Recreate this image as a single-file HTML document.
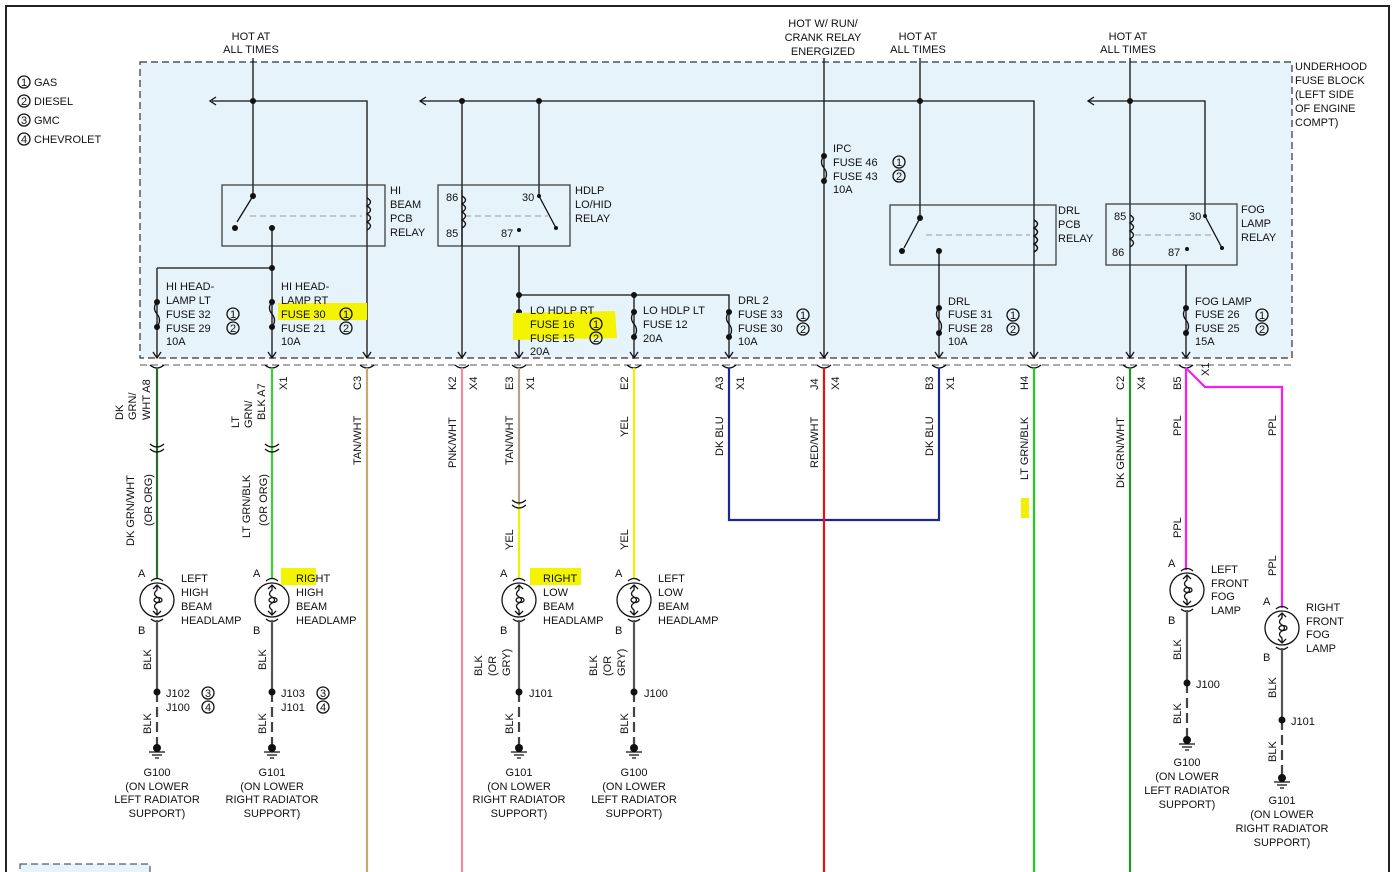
<!DOCTYPE html>
<html><head><meta charset="utf-8"><style>
html,body{margin:0;padding:0;background:#fff}
svg{display:block}
text{font-family:"Liberation Sans",sans-serif;font-size:11px;fill:#111}
.c{text-anchor:middle}
.w{fill:none;stroke-width:2.2}
.k{stroke:#111;fill:none;stroke-width:1.3}
</style></head><body>
<svg width="1398" height="872" viewBox="0 0 1398 872" xmlns="http://www.w3.org/2000/svg">
<defs>
<g id="lamp"><circle cx="0" cy="0" r="17" fill="#fff" stroke="#111" stroke-width="1.3"/>
<path d="M-6 -19 Q0 -24 6 -19 M-6 19 Q0 24 6 19" class="k"/>
<path d="M0 -15 L0 -10 Q-5 -6 0 -3 Q5 0 0 3 Q-5 6 0 10 L0 15 M-4 -11 L0 -15 L4 -11 M-4 11 L0 15 L4 11" class="k"/>
<ellipse cx="1" cy="0" rx="4" ry="2.5" class="k"/></g>
<g id="gnd"><circle cx="0" cy="0" r="4" fill="#111"/><path d="M-8 4 H8 M-5 7 H5 M-2 10 H2" class="k"/></g>
<g id="fuse"><circle cx="0" cy="0" r="3" fill="#111"/><circle cx="0" cy="25" r="3" fill="#111"/><path d="M0 0 Q-5 6 0 12 Q5 18 0 25" class="k"/></g>
<g id="conn"><path d="M-7 -3 Q0 3 7 -3" class="k"/></g>
<g id="arr"><path d="M-4 -6 L0 0 L4 -6" class="k"/></g>
</defs>
<!-- frame -->
<path d="M6 872 V6 H1389 V872" stroke="#222" stroke-width="2" fill="none"/>
<!-- fuse block -->
<rect x="140" y="62" width="1152" height="296" fill="#e6f3fb" stroke="#333" stroke-width="1.2" stroke-dasharray="7,4"/>
<line x1="140" y1="365" x2="1292" y2="365" stroke="#555" stroke-dasharray="7,4"/>
<!-- legend -->
<g><circle cx="24" cy="82" r="6" class="k"/><text x="21" y="86" font-size="9">1</text><text x="34" y="86">GAS</text>
<circle cx="24" cy="101" r="6" class="k"/><text x="21" y="105" font-size="9">2</text><text x="34" y="105">DIESEL</text>
<circle cx="24" cy="120" r="6" class="k"/><text x="21" y="124" font-size="9">3</text><text x="34" y="124">GMC</text>
<circle cx="24" cy="139" r="6" class="k"/><text x="21" y="143" font-size="9">4</text><text x="34" y="143">CHEVROLET</text></g>
<!-- top labels -->
<text class="c" x="251" y="40">HOT AT</text><text class="c" x="251" y="53">ALL TIMES</text>
<text class="c" x="823" y="27">HOT W/ RUN/</text><text class="c" x="823" y="41">CRANK RELAY</text><text class="c" x="823" y="55">ENERGIZED</text>
<text class="c" x="918" y="40">HOT AT</text><text class="c" x="918" y="53">ALL TIMES</text>
<text class="c" x="1128" y="40">HOT AT</text><text class="c" x="1128" y="53">ALL TIMES</text>
<text x="1295" y="70">UNDERHOOD</text><text x="1295" y="84">FUSE BLOCK</text><text x="1295" y="98">(LEFT SIDE</text><text x="1295" y="112">OF ENGINE</text><text x="1295" y="126">COMPT)</text>
<!-- buses -->
<path d="M253 58 V196 M212 101 H367 V358 M420 101 H1034 V358 M920 58 V101 M920 101 V218 M824 58 V358 M1130 58 V358 M1088 101 H1205 V208 M462 101 V358 M539 101 V190" class="k"/>
<path d="M216 97 L210 101 L216 105 M426 97 L420 101 L426 105 M1094 97 L1088 101 L1094 105" class="k"/>
<g fill="#111"><circle cx="253" cy="101" r="3"/><circle cx="462" cy="101" r="3"/><circle cx="539" cy="101" r="3"/><circle cx="920" cy="101" r="3"/><circle cx="1130" cy="101" r="3"/></g>
<!-- HI BEAM relay -->
<rect x="222" y="185" width="163" height="61" fill="none" stroke="#333" stroke-width="1.2"/>
<path d="M253 196 L237 222" class="k"/><circle cx="253" cy="196" r="3" fill="#111"/><circle cx="235" cy="228" r="3" fill="#111"/><circle cx="272" cy="228" r="3" fill="#111"/>
<line x1="250" y1="216" x2="362" y2="216" stroke="#999" stroke-dasharray="6,4"/>
<path d="M367 198 Q374 202 367 206 Q374 210 367 214 Q374 218 367 222 Q374 226 367 230" class="k"/>
<text x="390" y="194">HI</text><text x="390" y="208">BEAM</text><text x="390" y="222">PCB</text><text x="390" y="236">RELAY</text>
<path d="M272 228 V358 M157 268 H272 M157 268 V358" class="k"/><circle cx="272" cy="268" r="3" fill="#111"/>
<use href="#fuse" x="157" y="302"/><use href="#fuse" x="272" y="302"/>
<rect x="278" y="303" width="89" height="17" fill="#f4f400"/>
<text x="166" y="290">HI HEAD-</text><text x="166" y="304">LAMP LT</text><text x="166" y="318">FUSE 32</text><text x="166" y="332">FUSE 29</text><text x="166" y="345">10A</text>
<text x="281" y="290">HI HEAD-</text><text x="281" y="304">LAMP RT</text><text x="281" y="318">FUSE 30</text><text x="281" y="332">FUSE 21</text><text x="281" y="345">10A</text>
<g class="k"><circle cx="233" cy="314" r="6"/><circle cx="233" cy="328" r="6"/><circle cx="346" cy="314" r="6"/><circle cx="346" cy="328" r="6"/></g>
<text x="230" y="318" font-size="9">1</text><text x="230" y="332" font-size="9">2</text><text x="343" y="318" font-size="9">1</text><text x="343" y="332" font-size="9">2</text>
<!-- HDLP relay -->
<rect x="438" y="185" width="132" height="61" fill="none" stroke="#333" stroke-width="1.2"/>
<line x1="465" y1="216" x2="548" y2="216" stroke="#999" stroke-dasharray="6,4"/>
<path d="M462 190 V246 M462 196 Q469 200 462 204 Q469 208 462 212 Q469 216 462 220 Q469 224 462 228 M539 190 V196 L556 228 M519 246 V255 M519 358 V255" class="k"/>
<circle cx="539" cy="196" r="2" fill="#111"/><circle cx="556" cy="228" r="2" fill="#111"/><circle cx="519" cy="230" r="2" fill="#111"/>
<text x="446" y="201">86</text><text x="446" y="237">85</text><text x="522" y="201">30</text><text x="501" y="237">87</text>
<text x="575" y="194">HDLP</text><text x="575" y="208">LO/HID</text><text x="575" y="222">RELAY</text>
<path d="M519 295 H729 V358 M634 295 V358" class="k"/><circle cx="519" cy="295" r="3" fill="#111"/><circle cx="634" cy="295" r="3" fill="#111"/>
<use href="#fuse" x="519" y="312"/><use href="#fuse" x="634" y="312"/><use href="#fuse" x="729" y="312"/>
<path d="M513 313 L615 311 L617 338 L513 340 Z" fill="#f4f400"/>
<text x="530" y="314">LO HDLP RT</text><text x="530" y="328">FUSE 16</text><text x="530" y="342">FUSE 15</text><text x="530" y="355">20A</text>
<text x="643" y="314">LO HDLP LT</text><text x="643" y="328">FUSE 12</text><text x="643" y="342">20A</text>
<text x="738" y="304">DRL 2</text><text x="738" y="318">FUSE 33</text><text x="738" y="332">FUSE 30</text><text x="738" y="345">10A</text>
<g class="k"><circle cx="596" cy="324" r="6"/><circle cx="596" cy="338" r="6"/><circle cx="803" cy="315" r="6"/><circle cx="803" cy="329" r="6"/></g>
<text x="593" y="328" font-size="9">1</text><text x="593" y="342" font-size="9">2</text><text x="800" y="319" font-size="9">1</text><text x="800" y="333" font-size="9">2</text>
<!-- IPC fuse -->
<use href="#fuse" x="824" y="156"/>
<text x="833" y="152">IPC</text><text x="833" y="166">FUSE 46</text><text x="833" y="180">FUSE 43</text><text x="833" y="193">10A</text>
<g class="k"><circle cx="899" cy="162" r="6"/><circle cx="899" cy="176" r="6"/></g><text x="896" y="166" font-size="9">1</text><text x="896" y="180" font-size="9">2</text>
<!-- DRL relay -->
<rect x="890" y="205" width="166" height="60" fill="none" stroke="#333" stroke-width="1.2"/>
<path d="M920 218 L904 248 M939 252 V358" class="k"/><circle cx="920" cy="218" r="3" fill="#111"/><circle cx="902" cy="251" r="3" fill="#111"/><circle cx="939" cy="251" r="3" fill="#111"/>
<line x1="926" y1="235" x2="1030" y2="235" stroke="#999" stroke-dasharray="6,4"/>
<path d="M1034 220 Q1041 224 1034 228 Q1041 232 1034 236 Q1041 240 1034 244 Q1041 248 1034 252" class="k" stroke="#fff" stroke-width="0"/>
<path d="M1034 220 Q1041 224 1034 228 Q1041 232 1034 236 Q1041 240 1034 244 Q1041 248 1034 252" class="k"/>
<text x="1058" y="214">DRL</text><text x="1058" y="228">PCB</text><text x="1058" y="242">RELAY</text>
<use href="#fuse" x="939" y="308"/>
<text x="948" y="305">DRL</text><text x="948" y="318">FUSE 31</text><text x="948" y="332">FUSE 28</text><text x="948" y="345">10A</text>
<g class="k"><circle cx="1013" cy="315" r="6"/><circle cx="1013" cy="329" r="6"/></g><text x="1010" y="319" font-size="9">1</text><text x="1010" y="333" font-size="9">2</text>
<!-- FOG relay -->
<rect x="1106" y="204" width="131" height="61" fill="none" stroke="#333" stroke-width="1.2"/>
<line x1="1135" y1="235" x2="1215" y2="235" stroke="#999" stroke-dasharray="6,4"/>
<path d="M1130 215 Q1137 219 1130 223 Q1137 227 1130 231 Q1137 235 1130 239 Q1137 243 1130 247 M1205 208 V216 L1222 248 M1186 265 V358" class="k"/>
<circle cx="1205" cy="216" r="2" fill="#111"/><circle cx="1222" cy="248" r="2" fill="#111"/><circle cx="1187" cy="249" r="2" fill="#111"/>
<text x="1114" y="220">85</text><text x="1112" y="256">86</text><text x="1189" y="220">30</text><text x="1168" y="256">87</text>
<text x="1241" y="213">FOG</text><text x="1241" y="227">LAMP</text><text x="1241" y="241">RELAY</text>
<use href="#fuse" x="1186" y="308"/>
<text x="1195" y="305">FOG LAMP</text><text x="1195" y="318">FUSE 26</text><text x="1195" y="332">FUSE 25</text><text x="1195" y="345">15A</text>
<g class="k"><circle cx="1262" cy="315" r="6"/><circle cx="1262" cy="329" r="6"/></g><text x="1259" y="319" font-size="9">1</text><text x="1259" y="333" font-size="9">2</text>
<!-- arrows at box bottom -->
<g><use href="#arr" x="157" y="358"/><use href="#arr" x="272" y="358"/><use href="#arr" x="367" y="358"/><use href="#arr" x="462" y="358"/><use href="#arr" x="519" y="358"/><use href="#arr" x="634" y="358"/><use href="#arr" x="729" y="358"/><use href="#arr" x="824" y="358"/><use href="#arr" x="939" y="358"/><use href="#arr" x="1034" y="358"/><use href="#arr" x="1130" y="358"/><use href="#arr" x="1186" y="358"/>
<use href="#conn" x="157" y="368"/><use href="#conn" x="272" y="368"/><use href="#conn" x="367" y="368"/><use href="#conn" x="462" y="368"/><use href="#conn" x="519" y="368"/><use href="#conn" x="634" y="368"/><use href="#conn" x="729" y="368"/><use href="#conn" x="824" y="368"/><use href="#conn" x="939" y="368"/><use href="#conn" x="1034" y="368"/><use href="#conn" x="1130" y="368"/><use href="#conn" x="1186" y="368"/></g>
<!-- wires -->
<path d="M157 368 V578" stroke="#2f6a2f" class="w"/>
<path d="M272 368 V578" stroke="#3ccc3c" class="w"/>
<path d="M367 368 V872" stroke="#c8a870" class="w"/>
<path d="M462 368 V872" stroke="#f08c9c" class="w"/>
<path d="M519 368 V505" stroke="#b8a088" class="w"/>
<path d="M519 505 V578" stroke="#f0f000" class="w"/>
<path d="M634 368 V578" stroke="#f0f000" class="w"/>
<path d="M729 368 V520 H939 V368" stroke="#1a2890" class="w"/>
<path d="M824 368 V872" stroke="#e81010" class="w"/>
<path d="M1034 368 V872" stroke="#22cc22" class="w"/>
<path d="M1130 368 V872" stroke="#229922" class="w"/>
<path d="M1186 368 V570 M1186 368 L1205 387 H1282 V608" stroke="#f020f0" class="w"/>
<rect x="1021" y="498" width="8" height="20" fill="#f0f000"/>
<g><use href="#conn" x="157" y="447"/><use href="#conn" x="157" y="452"/><use href="#conn" x="272" y="447"/><use href="#conn" x="272" y="452"/><use href="#conn" x="519" y="503"/><use href="#conn" x="519" y="508"/></g>
<!-- wire labels (rotated) -->
<g>
<text transform="translate(123,420) rotate(-90)">DK</text><text transform="translate(136,420) rotate(-90)">GRN/</text><text transform="translate(150,420) rotate(-90)">WHT A8</text>
<text transform="translate(239,428) rotate(-90)">LT</text><text transform="translate(252,428) rotate(-90)">GRN/</text><text transform="translate(265,420) rotate(-90)">BLK  A7</text>
<text transform="translate(287,390) rotate(-90)">X1</text>
<text transform="translate(361,390) rotate(-90)">C3</text><text transform="translate(361,465) rotate(-90)">TAN/WHT</text>
<text transform="translate(456,390) rotate(-90)">K2</text><text transform="translate(477,390) rotate(-90)">X4</text><text transform="translate(456,468) rotate(-90)">PNK/WHT</text>
<text transform="translate(513,390) rotate(-90)">E3</text><text transform="translate(534,390) rotate(-90)">X1</text><text transform="translate(513,465) rotate(-90)">TAN/WHT</text><text transform="translate(513,550) rotate(-90)">YEL</text>
<text transform="translate(628,390) rotate(-90)">E2</text><text transform="translate(628,437) rotate(-90)">YEL</text><text transform="translate(628,550) rotate(-90)">YEL</text>
<text transform="translate(723,390) rotate(-90)">A3</text><text transform="translate(744,390) rotate(-90)">X1</text><text transform="translate(723,456) rotate(-90)">DK BLU</text>
<text transform="translate(818,390) rotate(-90)">J4</text><text transform="translate(839,390) rotate(-90)">X4</text><text transform="translate(818,468) rotate(-90)">RED/WHT</text>
<text transform="translate(933,390) rotate(-90)">B3</text><text transform="translate(954,390) rotate(-90)">X1</text><text transform="translate(933,456) rotate(-90)">DK BLU</text>
<text transform="translate(1028,390) rotate(-90)">H4</text><text transform="translate(1028,480) rotate(-90)">LT GRN/BLK</text>
<text transform="translate(1124,390) rotate(-90)">C2</text><text transform="translate(1145,390) rotate(-90)">X4</text><text transform="translate(1124,488) rotate(-90)">DK GRN/WHT</text>
<text transform="translate(1181,390) rotate(-90)">B5</text><text transform="translate(1209,376) rotate(-90)">X1</text><text transform="translate(1181,436) rotate(-90)">PPL</text><text transform="translate(1181,538) rotate(-90)">PPL</text>
<text transform="translate(1276,436) rotate(-90)">PPL</text><text transform="translate(1276,576) rotate(-90)">PPL</text>
<text transform="translate(134,546) rotate(-90)">DK GRN/WHT</text><text transform="translate(152,526) rotate(-90)">(OR ORG)</text>
<text transform="translate(250,538) rotate(-90)">LT GRN/BLK</text><text transform="translate(267,526) rotate(-90)">(OR ORG)</text>
</g>
<!-- lamps and grounds -->
<g>
<use href="#lamp" x="157" y="600"/><use href="#lamp" x="272" y="600"/><use href="#lamp" x="519" y="600"/><use href="#lamp" x="634" y="600"/>
<use href="#lamp" x="1187" y="590"/><use href="#lamp" x="1282" y="628"/>
</g>
<path d="M157 620 V692 M272 620 V692 M519 620 V692 M634 620 V692 M1187 610 V683 M1282 648 V720" stroke="#555" stroke-width="2.2" fill="none"/>
<path d="M157 692 V748 M272 692 V748 M519 692 V748 M634 692 V748 M1187 683 V742 M1282 720 V780" stroke="#444" stroke-width="2.2" stroke-dasharray="10,5" fill="none"/>
<g fill="#111"><circle cx="157" cy="692" r="3.5"/><circle cx="272" cy="692" r="3.5"/><circle cx="519" cy="692" r="3.5"/><circle cx="634" cy="692" r="3.5"/><circle cx="1187" cy="683" r="3.5"/><circle cx="1282" cy="720" r="3.5"/></g>
<use href="#gnd" x="157" y="748"/><use href="#gnd" x="272" y="748"/><use href="#gnd" x="519" y="748"/><use href="#gnd" x="634" y="748"/><use href="#gnd" x="1187" y="740"/><use href="#gnd" x="1282" y="778"/>
<rect x="281" y="568" width="35" height="17" fill="#f4f400"/><rect x="530" y="568" width="51" height="17" fill="#f4f400"/>
<text x="138" y="577">A</text><text x="138" y="634">B</text><text x="253" y="577">A</text><text x="253" y="634">B</text><text x="500" y="577">A</text><text x="500" y="634">B</text><text x="615" y="577">A</text><text x="615" y="634">B</text>
<text x="1168" y="567">A</text><text x="1168" y="624">B</text><text x="1263" y="605">A</text><text x="1263" y="661">B</text>
<text x="181" y="582">LEFT</text><text x="181" y="596">HIGH</text><text x="181" y="610">BEAM</text><text x="181" y="624">HEADLAMP</text>
<text x="296" y="582">RIGHT</text><text x="296" y="596">HIGH</text><text x="296" y="610">BEAM</text><text x="296" y="624">HEADLAMP</text>
<text x="543" y="582">RIGHT</text><text x="543" y="596">LOW</text><text x="543" y="610">BEAM</text><text x="543" y="624">HEADLAMP</text>
<text x="658" y="582">LEFT</text><text x="658" y="596">LOW</text><text x="658" y="610">BEAM</text><text x="658" y="624">HEADLAMP</text>
<text x="1211" y="573">LEFT</text><text x="1211" y="587">FRONT</text><text x="1211" y="600">FOG</text><text x="1211" y="614">LAMP</text>
<text x="1306" y="611">RIGHT</text><text x="1306" y="625">FRONT</text><text x="1306" y="638">FOG</text><text x="1306" y="652">LAMP</text>
<g>
<text transform="translate(151,670) rotate(-90)">BLK</text><text transform="translate(151,734) rotate(-90)">BLK</text>
<text transform="translate(266,670) rotate(-90)">BLK</text><text transform="translate(266,734) rotate(-90)">BLK</text>
<text transform="translate(482,676) rotate(-90)">BLK</text><text transform="translate(496,676) rotate(-90)">(OR</text><text transform="translate(510,676) rotate(-90)">GRY)</text><text transform="translate(513,734) rotate(-90)">BLK</text>
<text transform="translate(597,676) rotate(-90)">BLK</text><text transform="translate(611,676) rotate(-90)">(OR</text><text transform="translate(625,676) rotate(-90)">GRY)</text><text transform="translate(628,734) rotate(-90)">BLK</text>
<text transform="translate(1181,660) rotate(-90)">BLK</text><text transform="translate(1181,724) rotate(-90)">BLK</text>
<text transform="translate(1276,698) rotate(-90)">BLK</text><text transform="translate(1276,762) rotate(-90)">BLK</text>
</g>
<text x="166" y="697">J102</text><text x="166" y="711">J100</text><text x="281" y="697">J103</text><text x="281" y="711">J101</text>
<g class="k"><circle cx="208" cy="693" r="6"/><circle cx="208" cy="707" r="6"/><circle cx="323" cy="693" r="6"/><circle cx="323" cy="707" r="6"/></g>
<text x="205" y="697" font-size="9">3</text><text x="205" y="711" font-size="9">4</text><text x="320" y="697" font-size="9">3</text><text x="320" y="711" font-size="9">4</text>
<text x="529" y="697">J101</text><text x="644" y="697">J100</text><text x="1196" y="688">J100</text><text x="1291" y="725">J101</text>
<g class="c">
<text x="157" y="776">G100</text><text x="157" y="790">(ON LOWER</text><text x="157" y="803">LEFT RADIATOR</text><text x="157" y="817">SUPPORT)</text>
<text x="272" y="776">G101</text><text x="272" y="790">(ON LOWER</text><text x="272" y="803">RIGHT RADIATOR</text><text x="272" y="817">SUPPORT)</text>
<text x="519" y="776">G101</text><text x="519" y="790">(ON LOWER</text><text x="519" y="803">RIGHT RADIATOR</text><text x="519" y="817">SUPPORT)</text>
<text x="634" y="776">G100</text><text x="634" y="790">(ON LOWER</text><text x="634" y="803">LEFT RADIATOR</text><text x="634" y="817">SUPPORT)</text>
<text x="1187" y="766">G100</text><text x="1187" y="780">(ON LOWER</text><text x="1187" y="794">LEFT RADIATOR</text><text x="1187" y="808">SUPPORT)</text>
<text x="1282" y="804">G101</text><text x="1282" y="818">(ON LOWER</text><text x="1282" y="832">RIGHT RADIATOR</text><text x="1282" y="846">SUPPORT)</text>
</g>
<rect x="20" y="864" width="130" height="10" fill="#e6f3fb" stroke="#333" stroke-dasharray="7,4"/>
</svg>
</body></html>
